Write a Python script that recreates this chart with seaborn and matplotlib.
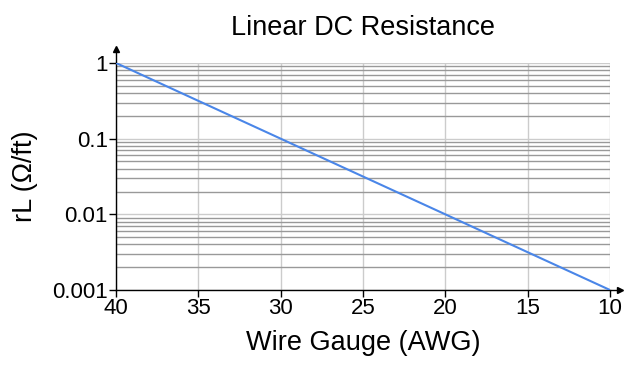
import matplotlib
matplotlib.use("Agg")
import matplotlib.pyplot as plt
import numpy as np
import pandas as pd
import seaborn as sns
from matplotlib.ticker import FixedLocator, LogLocator, NullFormatter

# wire gauge vs linear resistance
gauge = [40, 35, 30, 25, 20, 15, 10]
resistance = [1.0, 0.316, 0.1, 0.0316, 0.01, 0.00316, 0.001]
x_ticks = [40, 35, 30, 25, 20, 15, 10]
y_ticks = [0.001, 0.01, 0.1, 1]
y_tick_labels = ["0.001", "0.01", "0.1", "1"]

sns.set_style("white", {"text.color": "black", "axes.labelcolor": "black",
                        "xtick.color": "black", "ytick.color": "black"})
plt.rcParams["font.family"] = ["Liberation Sans", "DejaVu Sans"]

df = pd.DataFrame({"gauge": gauge, "rL": resistance})

fig = plt.figure(figsize=(6.35, 3.71), dpi=100)
ax = fig.add_axes([0.1827, 0.2183, 0.7779, 0.6119])

sns.lineplot(data=df, x="gauge", y="rL", color="#4a86e8", linewidth=1.5, ax=ax, zorder=3)

ax.set_yscale("log")
ax.set_xlim(40, 10)
ax.set_ylim(0.001, 1)

ax.xaxis.set_major_locator(FixedLocator(x_ticks))
ax.set_xticklabels([str(t) for t in x_ticks])
ax.yaxis.set_major_locator(FixedLocator(y_ticks))
ax.set_yticklabels(y_tick_labels)
ax.yaxis.set_minor_locator(LogLocator(base=10, subs=np.arange(2, 10)))
ax.yaxis.set_minor_formatter(NullFormatter())

# grid: light major lines, darker minor lines on the log axis
ax.grid(True, which="major", axis="both", color="#cccccc", linewidth=1.0, zorder=0)
ax.grid(True, which="minor", axis="y", color="#999999", linewidth=1.0, zorder=0)
ax.set_axisbelow(True)

ax.tick_params(axis="both", which="major", direction="out", length=5, width=1,
               color="black", labelcolor="black", labelsize=16, pad=1,
               bottom=True, left=True)
ax.tick_params(axis="y", which="minor", length=0)

for side in ("top", "right"):
    ax.spines[side].set_visible(False)
for side in ("left", "bottom"):
    ax.spines[side].set_color("black")
    ax.spines[side].set_linewidth(1.0)

# arrow heads on the axis ends
ax.plot(0, 1.06, marker="^", color="black", markersize=5, transform=ax.transAxes, clip_on=False)
ax.plot(1.02, 0, marker=">", color="black", markersize=5, transform=ax.transAxes, clip_on=False)
ax.plot([0, 0], [1, 1.05], color="black", linewidth=1, transform=ax.transAxes, clip_on=False)
ax.plot([1, 1.015], [0, 0], color="black", linewidth=1, transform=ax.transAxes, clip_on=False)

ax.set_xlabel("Wire Gauge (AWG)", fontsize=19.5, labelpad=8, color="black")
ax.set_ylabel("rL (\u03a9/ft)", fontsize=19.5, labelpad=10, color="black")
ax.set_title("Linear DC Resistance", fontsize=19.5, pad=20, color="black")

fig.savefig("out.png", dpi=100)
